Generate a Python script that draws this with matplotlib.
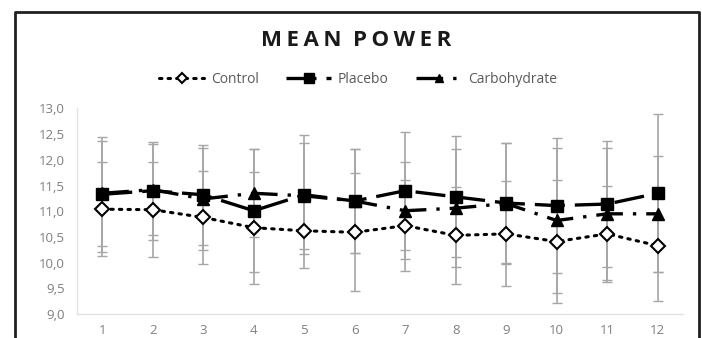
import matplotlib.pyplot as plt
from matplotlib.lines import Line2D
from matplotlib.ticker import FuncFormatter

plt.rcParams['font.family'] = ['Open Sans', 'DejaVu Sans']

sets = list(range(1, 13))

control = [11.04, 11.03, 10.88, 10.68, 10.62, 10.59, 10.72, 10.53, 10.56, 10.41, 10.56, 10.33]
control_sd = [0.92, 0.92, 0.90, 1.09, 0.73, 1.15, 0.89, 0.95, 1.02, 1.20, 0.93, 1.08]

placebo = [11.33, 11.40, 11.32, 11.01, 11.32, 11.20, 11.40, 11.28, 11.16, 11.11, 11.14, 11.35]
placebo_sd = [1.12, 0.95, 0.97, 1.20, 1.16, 1.01, 1.15, 1.18, 1.17, 1.31, 1.23, 1.54]

carbo = [11.35, 11.42, 11.24, 11.35, 11.30, 11.20, 11.01, 11.06, 11.15, 10.82, 10.95, 10.95]
carbo_sd = [1.02, 0.89, 0.99, 0.86, 1.03, 1.01, 0.94, 1.15, 1.17, 1.42, 1.28, 1.13]

fig = plt.figure(figsize=(7.02, 3.38), dpi=100)
ax = fig.add_axes([0.1097, 0.071, 0.863, 0.608])

err_kw = dict(ecolor='#a6a6a6', elinewidth=1.2, capsize=3.5, capthick=1.0)

ax.errorbar(sets, control, yerr=control_sd, fmt='none', zorder=1, **err_kw)
ax.errorbar(sets, placebo, yerr=placebo_sd, fmt='none', zorder=1, **err_kw)
ax.errorbar(sets, carbo, yerr=carbo_sd, fmt='none', zorder=1, **err_kw)

ax.plot(sets, carbo, color='black', lw=2.4, linestyle=(0, (8, 3, 1, 3)),
        marker='^', markersize=8, markerfacecolor='black', zorder=3, label='Carbohydrate')
ax.plot(sets, placebo, color='black', lw=2.4, linestyle=(0, (9, 3)),
        marker='s', markersize=9, markerfacecolor='black', zorder=4, label='Placebo')
ax.plot(sets, control, color='black', lw=2.2, linestyle=(0, (0.8, 2)),
        dash_capstyle='round', marker='D', markersize=7, markerfacecolor='white',
        markeredgewidth=1.5, zorder=5, label='Control')

ax.set_xlim(0.5, 12.5)
ax.set_ylim(9.0, 13.0)
ax.set_xticks(sets)
ax.set_yticks([9.0, 9.5, 10.0, 10.5, 11.0, 11.5, 12.0, 12.5, 13.0])
ax.yaxis.set_major_formatter(FuncFormatter(lambda v, p: f'{v:.1f}'.replace('.', ',')))
ax.tick_params(length=0, labelsize=9.5, labelcolor='#7f7f7f')
ax.tick_params(axis='x', pad=7)
ax.tick_params(axis='y', pad=9)

for s in ['top', 'right']:
    ax.spines[s].set_visible(False)
for s in ['left', 'bottom']:
    ax.spines[s].set_color('#e3e3e3')
    ax.spines[s].set_linewidth(1.0)

handles, labels = ax.get_legend_handles_labels()
order = [2, 1, 0]
fig.legend([handles[i] for i in order], [labels[i] for i in order],
           loc='center', bbox_to_anchor=(0.51, 0.765), ncol=3, frameon=False,
           fontsize=10, labelcolor='#595959', handlelength=3.2,
           columnspacing=2.0, handletextpad=0.5, markerscale=0.8)

# letter-spaced title, as in the original
title = '\u2009'.join('MEAN POWER').replace('\u2009 \u2009', '  ')
fig.text(0.508, 0.88, title, ha='center', va='center',
         fontsize=16, fontweight='bold', color='#1a1a1a')

# chart border (open at the bottom)
x0, x1, y1 = 15 / 702, 699 / 702, 1 - 12 / 338
fig.add_artist(Line2D([x0, x0, x1, x1], [0, y1, y1, 0], color='#202020', lw=2))

fig.savefig('out.png', dpi=100)
